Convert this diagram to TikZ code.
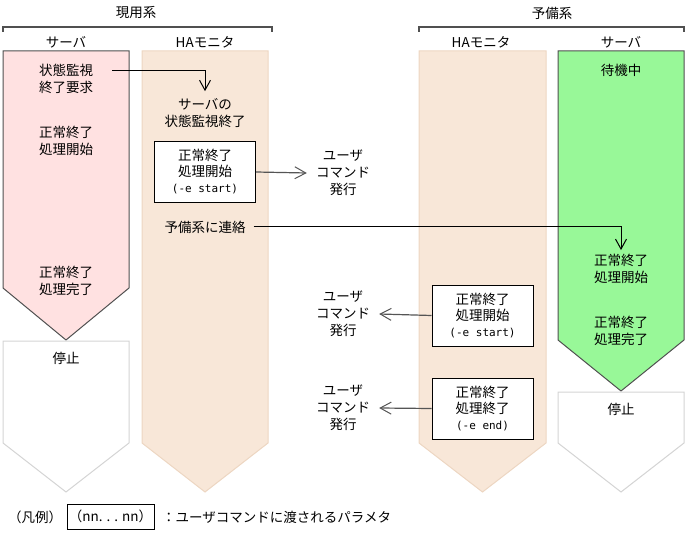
\documentclass[tikz,border=0pt]{standalone}
\usepackage{fontspec}
\setmainfont{Noto Sans CJK JP}
\newfontfamily\mono{DejaVu Sans Mono}
\usetikzlibrary{arrows.meta}
\definecolor{pinkfill}{HTML}{FFE1E1}
\definecolor{hafill}{HTML}{F8E7D8}
\definecolor{haline}{HTML}{EDD6C2}
\definecolor{greenfill}{HTML}{98F898}
\definecolor{darkline}{HTML}{505050}
\definecolor{lightline}{HTML}{D4D4D4}
\definecolor{arrgray}{HTML}{555555}
\tikzset{
  txt/.style={align=center, font=\fontsize{13.5bp}{17bp}\selectfont, inner sep=1bp},
  usertxt/.style={txt, inner xsep=9bp},
  procbox/.style={draw=black, line width=1bp, fill=white, minimum width=101bp, minimum height=61bp, align=center, inner sep=0pt, font=\fontsize{13.5bp}{16bp}\selectfont},
  brk/.style={draw=darkline, line width=1.2bp},
  arr/.style={draw=arrgray, line width=1.2bp, -{Straight Barb[length=11bp,width=12bp,line width=1bp]}},
  arrk/.style={draw=black, line width=1bp, -{Straight Barb[length=10bp,width=11bp,line width=1bp]}},
}
\begin{document}
\begin{tikzpicture}[x=1bp,y=-1bp]
\useasboundingbox (0,0) rectangle (687,533);
% lanes
\draw[fill=pinkfill, draw=darkline, line width=1bp] (3,51) -- (129,51) -- (129,288) -- (66,340) -- (3,288) -- cycle;
\draw[fill=white, draw=lightline, line width=1bp] (3,341) -- (129,341) -- (129,443) -- (66,492) -- (3,443) -- cycle;
\draw[fill=hafill, draw=haline, line width=1bp] (142,51) -- (268,51) -- (268,443) -- (205,492) -- (142,443) -- cycle;
\draw[fill=hafill, draw=haline, line width=1bp] (419,51) -- (546,51) -- (546,443) -- (482.5,492) -- (419,443) -- cycle;
\draw[fill=greenfill, draw=darkline, line width=1bp] (558,51) -- (684,51) -- (684,340) -- (621,391) -- (558,340) -- cycle;
\draw[fill=white, draw=lightline, line width=1bp] (558,392) -- (684,392) -- (684,443) -- (621,492) -- (558,443) -- cycle;
% brackets
\node[txt] (actv) at (136,13) {現用系};
\node[txt] (stby) at (552,13) {予備系};
\draw[brk] (3,32) -- (3,27) -- (272,27) -- (272,32);
\draw[brk] (419,32) -- (419,27) -- (684,27) -- (684,32);
% headers
\node[txt] (h1) at (66,42) {サーバ};
\node[txt] (h2) at (205,42) {HAモニタ};
\node[txt] (h3) at (481,42) {HAモニタ};
\node[txt] (h4) at (621,42) {サーバ};
% active server
\node[txt] (req) at (66,78.5) {状態監視\\終了要求};
\node[txt] (p1) at (66,141) {正常終了\\処理開始};
\node[txt] (p2) at (66,281) {正常終了\\処理完了};
\node[txt] (p3) at (66,358) {停止};
% active HA
\node[txt, inner ysep=7bp] (mstop) at (205,113) {サーバの\\状態監視終了};
\node[procbox] (b1) at (205,172) {正常終了\\処理開始\\{\mono\fontsize{11bp}{16bp}\selectfont(-e start)}};
\node[txt, inner xsep=8bp] (notify) at (205,227) {予備系に連絡};
\node[usertxt] (u1) at (343,173) {ユーザ\\コマンド\\発行};
% standby server
\node[txt] (g1) at (621,70) {待機中};
\node[txt, inner ysep=4bp] (g2) at (621,269) {正常終了\\処理開始};
\node[txt] (g3) at (621,331) {正常終了\\処理完了};
\node[txt] (g4) at (621,409) {停止};
% standby HA
\node[procbox] (b2) at (482.5,315.5) {正常終了\\処理開始\\{\mono\fontsize{11bp}{16bp}\selectfont(-e start)}};
\node[procbox] (b3) at (482.5,408.5) {正常終了\\処理終了\\{\mono\fontsize{11bp}{16bp}\selectfont(-e end)}};
\node[usertxt] (u2) at (343,314) {ユーザ\\コマンド\\発行};
\node[usertxt] (u3) at (343,408) {ユーザ\\コマンド\\発行};
% connectors
\coordinate (reqout) at (112,71);
\draw[arrk] (reqout) -| (mstop.north);
\draw[arr] (b1.east) -- (u1.west);
\draw[arrk] (notify.east) -| (g2.north);
\draw[arr] (b2.west) -- (u2.east);
\draw[arr] (b3.west) -- (u3.east);
% legend
\node[txt, anchor=west] (leg) at (7,517) {（凡例）};
\node[draw=black, line width=1bp, minimum width=87bp, minimum height=25bp, inner sep=0pt, font=\fontsize{13.5bp}{16bp}\selectfont] (legbox) at (110.5,516.5) {（nn. . . nn）};
\node[txt, anchor=west] (legtxt) at (161,517) {：ユーザコマンドに渡されるパラメタ};
\end{tikzpicture}
\end{document}
